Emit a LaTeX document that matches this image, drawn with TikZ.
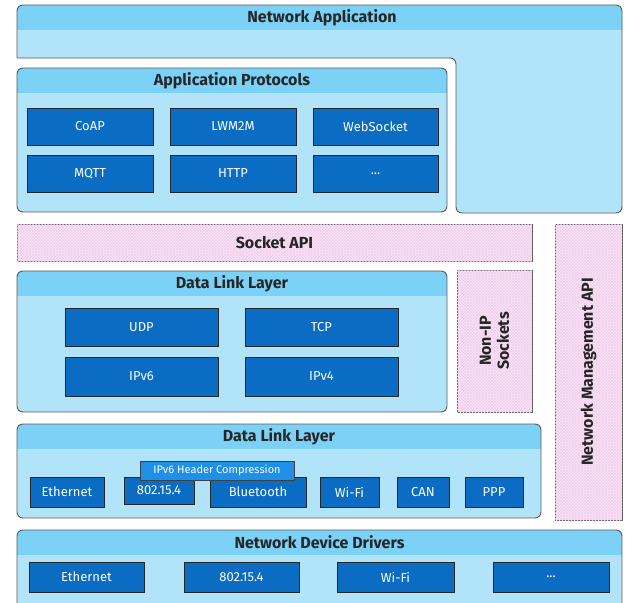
\documentclass[tikz,border=0pt]{standalone}
\usepackage{fontspec}
\setmainfont{Fira Sans}
\usetikzlibrary{patterns}
\definecolor{headblue}{HTML}{7CD2F6}
\definecolor{bodyblue}{HTML}{B2E4F9}
\definecolor{dblue}{HTML}{0A6DC3}
\definecolor{bblue}{HTML}{1E90E8}
\definecolor{pinkbg}{HTML}{FBE5F8}
\definecolor{pinkhatch}{HTML}{F0CFEC}
\definecolor{edge}{HTML}{5A5A5A}
\newcommand\bx[7]{\node[#2, minimum width={(#5-#3)*1pt}, minimum height={(#6-#4)*1pt}] (#1) at ({(#3+#5)/2},{(#4+#6)/2}) {#7};}
\newcommand\layerbox[6]{%
  \begin{scope}
    \clip[rounded corners=6pt] (#2,#3) rectangle (#4,#5);
    \fill[bodyblue] (#2,#3) rectangle (#4,#5);
    \fill[headblue] (#2,#3) rectangle (#4,#3+25);
  \end{scope}
  \draw[layerline] (#2,#3) rectangle (#4,#5);
  \node[ltitle] (#1) at ({(#2+#4)/2},#3+12.5) {#6};}
\begin{document}
\begin{tikzpicture}[x=1pt,y=-1pt,
  layerline/.style={draw=edge, line width=0.9pt, rounded corners=6pt},
  tfont/.style={font=\fontsize{16}{18}\selectfont\bfseries, text=black!85},
  ltitle/.style={tfont, inner sep=0pt},
  dbox/.style={draw=black!85, line width=1pt, fill=dblue, text=white, font=\fontsize{13}{15}\selectfont, inner sep=0pt},
  cbox/.style={draw=black!75, line width=0.8pt, fill=bblue, text=white, font=\fontsize{11}{13}\selectfont, inner sep=0pt},
  pinkbox/.style={draw=edge, line width=0.9pt, fill=pinkbg, postaction={pattern=crosshatch, pattern color=pinkhatch}, inner sep=0pt, tfont}
]
\useasboundingbox (0,0) rectangle (625,603);
\clip (0,0) rectangle (625,603);
\fill[white] (0,0) rectangle (625,603);

% Network Application (L-shape)
\begin{scope}
  \clip[rounded corners=6pt] (17,58) -- (17,5) -- (622,5) -- (622,213) -- (456,213) -- (456,58) -- (17,58);
  \fill[bodyblue] (0,0) rectangle (625,220);
  \fill[headblue] (0,0) rectangle (625,30);
\end{scope}
\draw[layerline] (17,58) -- (17,5) -- (622,5) -- (622,213) -- (456,213) -- (456,58) -- (17,58);
\node[ltitle] (netapp) at (322,17.5) {Network Application};

% Application Protocols
\layerbox{approt}{17}{68}{447}{212}{Application Protocols}
\bx{coap}{dbox}{27}{108}{153}{145}{CoAP}
\bx{lwm2m}{dbox}{170}{108}{296}{145}{LWM2M}
\bx{websocket}{dbox}{313}{108}{438}{145}{WebSocket}
\bx{mqtt}{dbox}{27}{155}{153}{192}{MQTT}
\bx{http}{dbox}{170}{155}{296}{192}{HTTP}
\bx{apdots}{dbox}{313}{155}{438}{192}{...}

% Socket API
\bx{socketapi}{pinkbox}{17}{224}{532}{261}{Socket API}
% Network Management API
\bx{netmgmt}{pinkbox}{555}{224}{622}{520}{}
\node[rotate=90, tfont] (netmgmtlabel) at (netmgmt.center) {Network Management API};
% Non-IP Sockets
\bx{nonip}{pinkbox}{457}{270}{532}{412}{}
\node[rotate=90, align=center, tfont] (noniplabel) at (nonip.center) {Non-IP\\Sockets};

% Data Link Layer (network/transport)
\layerbox{dll1}{17}{271}{447}{412}{Data Link Layer}
\bx{udp}{dbox}{65}{308}{218}{346}{UDP}
\bx{tcp}{dbox}{245}{308}{398}{346}{TCP}
\bx{ipv6}{dbox}{65}{357}{218}{396}{IPv6}
\bx{ipv4}{dbox}{245}{357}{398}{396}{IPv4}

% Data Link Layer (links)
\layerbox{dll2}{17}{424}{541}{518}{Data Link Layer}
\bx{eth}{dbox}{30}{477}{104}{507}{Ethernet}
\bx{ieee}{dbox}{124}{477}{194}{504}{802.15.4}
\bx{bt}{dbox}{210}{477}{306}{507}{Bluetooth}
\bx{wifi}{dbox}{320}{477}{379}{507}{Wi-Fi}
\bx{can}{dbox}{397}{477}{449}{507}{CAN}
\bx{ppp}{dbox}{465}{477}{523}{507}{PPP}
\bx{hc}{cbox}{140}{461}{294}{480}{IPv6 Header Compression}

% Network Device Drivers
\layerbox{ndd}{17}{530}{622}{612}{Network Device Drivers}
\bx{deth}{dbox}{29}{562}{144}{592}{Ethernet}
\bx{dieee}{dbox}{184}{562}{299}{592}{802.15.4}
\bx{dwifi}{dbox}{337}{562}{454}{592}{Wi-Fi}
\bx{ddots}{dbox}{493}{562}{609}{592}{...}
\end{tikzpicture}
\end{document}
